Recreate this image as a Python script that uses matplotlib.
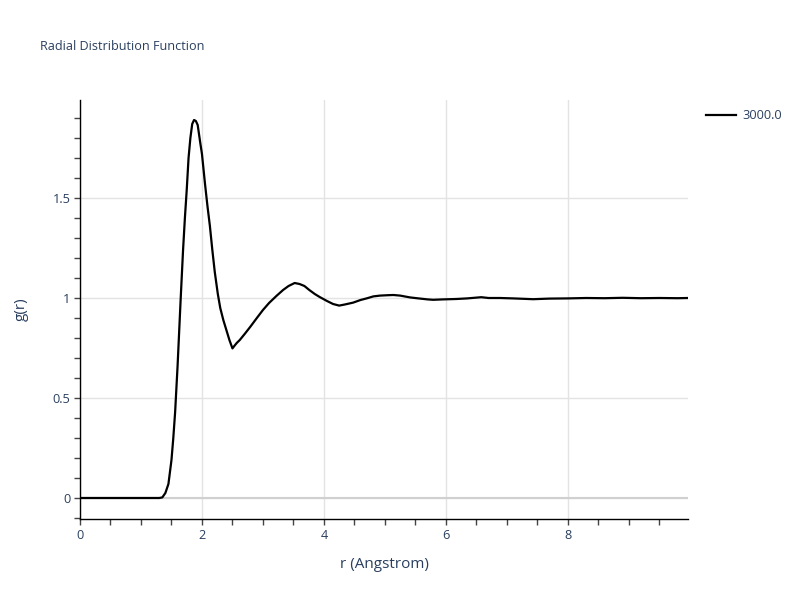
import matplotlib
matplotlib.use("Agg")
import matplotlib.pyplot as plt
from matplotlib.ticker import MultipleLocator, FixedLocator

#===============================================================================
# DATA
#===============================================================================
r = [0.0, 0.5, 1.0, 1.3, 1.35, 1.40, 1.45, 1.50, 1.53, 1.56, 1.60, 1.65,
     1.69, 1.72, 1.75, 1.78, 1.81, 1.84, 1.87, 1.90, 1.93, 1.97, 2.00, 2.05, 2.09,
     2.13, 2.17, 2.21, 2.26, 2.30, 2.35, 2.40, 2.45, 2.50, 2.53, 2.57, 2.62,
     2.70, 2.79, 2.90, 3.00, 3.10, 3.22, 3.33, 3.42, 3.52, 3.60, 3.68, 3.76,
     3.85, 3.93, 4.05, 4.15, 4.25, 4.35, 4.48, 4.60, 4.70, 4.81, 4.92, 5.05,
     5.14, 5.25, 5.41, 5.55, 5.70, 5.79, 5.95, 6.17, 6.35, 6.58, 6.70, 6.89,
     7.10, 7.43, 7.70, 8.00, 8.30, 8.60, 8.90, 9.20, 9.50, 9.80, 9.97]
g = [0.0, 0.0, 0.0, 0.0, 0.003, 0.025, 0.07, 0.19, 0.30, 0.43, 0.66, 0.99,
     1.24, 1.40, 1.54, 1.70, 1.80, 1.87, 1.89, 1.885, 1.865, 1.78, 1.72, 1.57, 1.46,
     1.36, 1.24, 1.13, 1.02, 0.95, 0.89, 0.84, 0.79, 0.748, 0.76, 0.775, 0.79,
     0.82, 0.855, 0.90, 0.94, 0.975, 1.01, 1.04, 1.06, 1.075, 1.07, 1.06, 1.04,
     1.02, 1.005, 0.985, 0.97, 0.962, 0.968, 0.977, 0.99, 0.998, 1.008, 1.012, 1.014,
     1.015, 1.012, 1.003, 0.998, 0.993, 0.991, 0.993, 0.995, 0.998, 1.004, 1.0, 1.0,
     0.998, 0.994, 0.997, 0.998, 1.0, 0.999, 1.001, 0.999, 1.0, 0.999, 1.0]
series_name = "3000.0"
x_ticks = [0, 2, 4, 6, 8]
y_ticks = [0, 0.5, 1, 1.5]
y_tick_labels = ["0", "0.5", "1", "1.5"]

txt = "#2a3f5f"
plt.rcParams['font.family'] = ['Open Sans', 'DejaVu Sans']

fig = plt.figure(figsize=(8, 6), dpi=100)
ax = fig.add_axes([80/800, 81/600, 608/800, 419/600])

ax.axhline(0, color="#d0d0d0", lw=1.5, zorder=1)
ax.plot(r, g, color="black", lw=1.6, label=series_name, zorder=3)

ax.set_xlim(0, 9.97)
ax.set_ylim(-0.105, 1.99)
ax.xaxis.set_major_locator(FixedLocator(x_ticks))
ax.xaxis.set_minor_locator(MultipleLocator(0.5))
ax.yaxis.set_major_locator(FixedLocator(y_ticks))
ax.set_yticklabels(y_tick_labels)
ax.yaxis.set_minor_locator(MultipleLocator(0.1))
ax.grid(True, which="major", color="#e3e3e3", lw=1, zorder=0)
ax.set_axisbelow(True)

for s in ("top", "right"):
    ax.spines[s].set_visible(False)
for s in ("left", "bottom"):
    ax.spines[s].set_color("black")
    ax.spines[s].set_linewidth(1)

ax.tick_params(which="both", direction="out", length=4, width=1, color="#444444",
               labelsize=9.2, labelcolor=txt, pad=3)

ax.set_xlabel("r (Angstrom)", fontsize=11, color=txt)
ax.set_ylabel("g(r)", fontsize=11, color=txt)
ax.xaxis.set_label_coords(0.5, -0.09)
ax.yaxis.set_label_coords(-0.085, 0.5)

fig.text(40/800, 1 - 46/600, "Radial Distribution Function", fontsize=9.1,
         color=txt, va="center", ha="left")

fig.legend(loc="upper left", bbox_to_anchor=(701/800, 1 - 104/600), frameon=False,
           fontsize=9.2, labelcolor=txt, handlelength=2.3, handletextpad=0.5,
           borderaxespad=0)

fig.savefig("out.png", dpi=100)
